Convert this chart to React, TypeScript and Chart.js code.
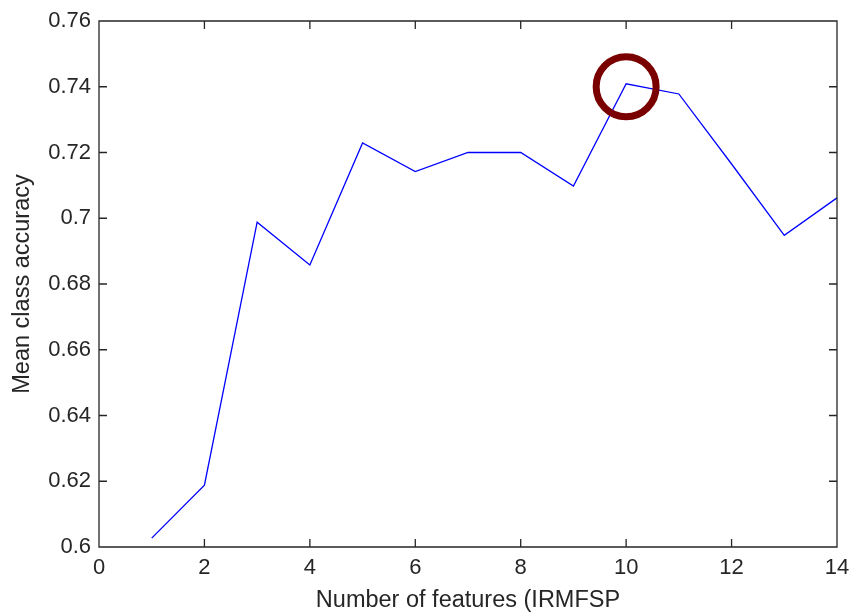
import React, { useEffect, useRef } from "react";
import { Chart, registerables } from "chart.js";

Chart.register(...registerables);

const features = [1, 2, 3, 4, 5, 6, 7, 8, 9, 10, 11, 12, 13, 14];
const accuracy = [0.6027, 0.6188, 0.6988, 0.6858, 0.7229, 0.7142, 0.72, 0.72, 0.7098, 0.7409, 0.7378, 0.7165, 0.6948, 0.7062];
const highlightX = [10];
const highlightY = [0.74];
const xTicks = [0, 2, 4, 6, 8, 10, 12, 14];
const yTicks = [0.6, 0.62, 0.64, 0.66, 0.68, 0.7, 0.72, 0.74, 0.76];
const xTitle = "Number of features (IRMFSP";
const yTitle = "Mean class accuracy";

const FONT = "'Liberation Sans', Arial, Helvetica, sans-serif";
const AXIS_COLOR = "#262626";

const boxTicksPlugin = {
  id: "boxTicks",
  afterDatasetsDraw(chart: any) {
    const { ctx, chartArea, scales } = chart;
    const { left, right, top, bottom } = chartArea;
    const len = 8;
    ctx.save();
    ctx.strokeStyle = AXIS_COLOR;
    ctx.lineWidth = 1.3;
    ctx.beginPath();
    ctx.rect(left, top, right - left, bottom - top);
    ctx.stroke();
    ctx.beginPath();
    scales.x.ticks.forEach((t: any) => {
      const px = scales.x.getPixelForValue(t.value);
      if (Math.abs(px - left) < 1 || Math.abs(px - right) < 1) return;
      ctx.moveTo(px, bottom);
      ctx.lineTo(px, bottom - len);
      ctx.moveTo(px, top);
      ctx.lineTo(px, top + len);
    });
    scales.y.ticks.forEach((t: any) => {
      const py = scales.y.getPixelForValue(t.value);
      if (Math.abs(py - top) < 1 || Math.abs(py - bottom) < 1) return;
      ctx.moveTo(left, py);
      ctx.lineTo(left + len, py);
      ctx.moveTo(right, py);
      ctx.lineTo(right - len, py);
    });
    ctx.stroke();
    ctx.restore();
  },
};

export default function App() {
  const ref = useRef<HTMLCanvasElement | null>(null);
  useEffect(() => {
    document.body.style.margin = "0";
    if (!ref.current) return;
    const chart = new Chart(ref.current, {
      type: "line",
      data: {
        datasets: [
          {
            type: "scatter",
            data: highlightX.map((x, i) => ({ x, y: highlightY[i] })),
            pointRadius: 30,
            pointHoverRadius: 30,
            pointBorderWidth: 7,
            pointBackgroundColor: "rgba(0,0,0,0)",
            pointBorderColor: "#7a0000",
            showLine: false,
            clip: false as any,
            order: 0,
          } as any,
          {
            type: "line",
            data: features.map((x, i) => ({ x, y: accuracy[i] })),
            borderColor: "#0000ff",
            borderWidth: 1.3,
            pointRadius: 0,
            tension: 0,
            fill: false,
            order: 1,
          } as any,
        ],
      },
      options: {
        animation: false,
        responsive: false,
        events: [],
        layout: { autoPadding: false, padding: { top: 21, right: 13, left: 0, bottom: 0 } },
        plugins: {
          legend: { display: false },
          tooltip: { enabled: false },
        },
        scales: {
          x: {
            type: "linear",
            min: 0,
            max: 14,
            afterBuildTicks: (s: any) => {
              s.ticks = xTicks.map((v) => ({ value: v }));
            },
            afterFit: (s: any) => {
              s.height = 66;
              s.paddingLeft = 0;
              s.paddingRight = 0;
            },
            grid: { display: false, drawTicks: false },
            border: { display: false },
            ticks: {
              padding: 8,
              color: AXIS_COLOR,
              font: { family: FONT, size: 22 },
              maxRotation: 0,
              autoSkip: false,
              callback: (v: any) => String(v),
            },
            title: {
              display: true,
              text: xTitle,
              color: AXIS_COLOR,
              font: { family: FONT, size: 23.5 },
              padding: { top: 0, bottom: -2 },
            },
          },
          y: {
            type: "linear",
            min: 0.6,
            max: 0.76,
            afterBuildTicks: (s: any) => {
              s.ticks = yTicks.map((v) => ({ value: v }));
            },
            afterFit: (s: any) => {
              s.width = 99;
              s.paddingTop = 0;
              s.paddingBottom = 0;
            },
            grid: { display: false, drawTicks: false },
            border: { display: false },
            ticks: {
              padding: 8,
              color: AXIS_COLOR,
              font: { family: FONT, size: 22 },
              autoSkip: false,
              callback: (v: any) => String(Number(Number(v).toFixed(2))),
            },
            title: {
              display: true,
              text: yTitle,
              color: AXIS_COLOR,
              font: { family: FONT, size: 23.5 },
              padding: { top: 8, bottom: 0 },
            },
          },
        },
      },
      plugins: [boxTicksPlugin],
    });
    return () => chart.destroy();
  }, []);
  return (
    <div style={{ width: 850, height: 613, background: "#fff" }}>
      <canvas ref={ref} width={850} height={613} />
    </div>
  );
}
